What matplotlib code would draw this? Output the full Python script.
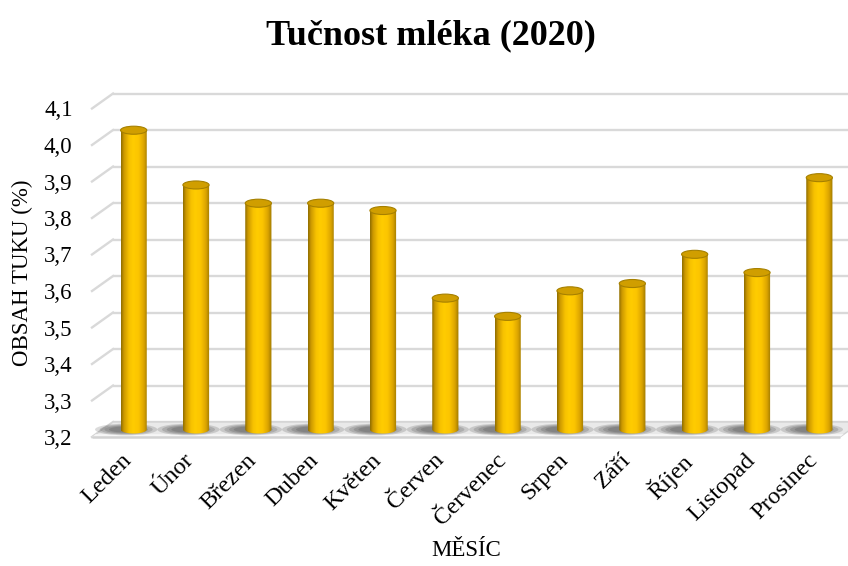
import numpy as np
import matplotlib
matplotlib.use('Agg')
import matplotlib.pyplot as plt
from matplotlib.patches import Ellipse, Polygon, PathPatch
from matplotlib.path import Path
from matplotlib.colors import LinearSegmentedColormap

# Monthly milk fat content
months = ['Leden', 'Únor', 'Březen', 'Duben', 'Květen', 'Červen',
          'Červenec', 'Srpen', 'Září', 'Říjen', 'Listopad', 'Prosinec']
fat = [4.02, 3.87, 3.82, 3.82, 3.80, 3.56, 3.51, 3.58, 3.60, 3.68, 3.63, 3.89]
y_ticks = [3.2, 3.3, 3.4, 3.5, 3.6, 3.7, 3.8, 3.9, 4.0, 4.1]
y_labels = ['3,2', '3,3', '3,4', '3,5', '3,6', '3,7', '3,8', '3,9', '4,0', '4,1']

BASE = 3.2
TOP = 4.1
DX = 0.337     # depth offset of the back wall (categories)
DY = 0.041     # depth offset of the back wall (value units)
HALF_W = 0.21  # cylinder radius
ELL_H = 0.022  # height of the cylinder cap ellipse
GRID = '#d9d9d9'

plt.rcParams['font.family'] = ['Liberation Serif', 'DejaVu Serif']

W, H = 848, 566
fig = plt.figure(figsize=(W / 100, H / 100), dpi=100)
# front plane of the 3D box, in pixels
left, right, bottom, top = 92, 840, 437, 108.5
ax = fig.add_axes([left / W, 1 - bottom / H, (right - left) / W, (bottom - top) / H])
ax.patch.set_visible(False)

x = np.arange(len(months))
x_end = len(months) - 0.5
wall_end = x_end + 8 / 62.33 + DX

# back wall gridlines and side wall diagonals
for v in y_ticks:
    ax.plot([-0.5 + DX, wall_end], [v + DY, v + DY], color=GRID, lw=1.7,
            clip_on=False, zorder=1, solid_capstyle='butt')
    ax.plot([-0.5, -0.5 + DX], [v, v + DY], color=GRID, lw=1.7,
            clip_on=False, zorder=1)

# floor
floor = Polygon([(-0.5, BASE), (x_end, BASE), (x_end + DX, BASE + DY),
                 (-0.5 + DX, BASE + DY)], closed=True, facecolor='#e9e9e9',
                edgecolor='#d4d4d4', lw=1.0, zorder=1.5, clip_on=False)
ax.add_patch(floor)
ax.add_patch(Polygon([(-0.5, BASE), (x_end, BASE), (x_end + 0.06, BASE + 0.008),
                      (-0.5 + 0.06, BASE + 0.008)], closed=True,
                     facecolor='#f6f6f6', edgecolor='none', zorder=1.55,
                     clip_on=False))
ax.plot([-0.5, x_end], [BASE, BASE], color='#d2d2d2', lw=1.8, zorder=1.6,
        clip_on=False, solid_capstyle='butt')

# soft shadows around the bases, thrown a little to the left
for i in x:
    cx = i + DX / 2
    for w, h in [(1.0, 0.032), (0.85, 0.027), (0.7, 0.022), (0.55, 0.017)]:
        ax.add_patch(Ellipse((cx - 0.12, BASE + DY / 2), w, h, facecolor='#2a2a2a',
                             edgecolor='none', alpha=0.17, zorder=2, clip_on=False))

cyl_cmap = LinearSegmentedColormap.from_list('cyl', [
    (0.0, '#8a6a00'), (0.1, '#c99600'), (0.3, '#f7c200'), (0.45, '#ffcc00'),
    (0.65, '#fcc500'), (0.85, '#dca500'), (1.0, '#9c7700')])
grad = np.linspace(0, 1, 256)[np.newaxis, :]

for i, v in zip(x, fat):
    cx = i + DX / 2
    y0 = BASE + DY / 2
    y1 = v + DY / 2
    t = np.linspace(np.pi, 2 * np.pi, 40)
    arc = np.column_stack([cx + HALF_W * np.cos(t), y0 + ELL_H / 2 * np.sin(t)])
    verts = np.vstack([[cx - HALF_W, y1], arc, [cx + HALF_W, y1], [cx - HALF_W, y1]])
    codes = [Path.MOVETO] + [Path.LINETO] * (len(verts) - 2) + [Path.CLOSEPOLY]
    body = PathPatch(Path(verts, codes), facecolor='none', edgecolor='none',
                     transform=ax.transData)
    im = ax.imshow(grad, cmap=cyl_cmap, aspect='auto', interpolation='bicubic',
                   extent=[cx - HALF_W, cx + HALF_W, y0 - ELL_H, y1], zorder=3)
    im.set_clip_path(body)
    ax.add_patch(Ellipse((cx, y1), 2 * HALF_W, ELL_H, facecolor='#d09e00',
                         edgecolor='#a68000', lw=0.8, zorder=4, clip_on=False))

ax.set_xlim(-0.5, x_end)
ax.set_ylim(BASE, TOP)
ax.set_yticks(y_ticks)
ax.set_yticklabels(y_labels, fontsize=16.5)
ax.set_xticks(x + DX / 2 + 0.04)
ax.set_xticklabels(months, fontsize=17.5, rotation=45, ha='right', va='top')
ax.tick_params(axis='y', length=0, pad=14)
ax.tick_params(axis='x', length=0, pad=9)
for s in ax.spines.values():
    s.set_visible(False)

fig.text(431 / W, 1 - 36 / H, 'Tučnost mléka (2020)', fontsize=26,
         fontweight='bold', ha='center', va='center')
fig.text(466 / W, 1 - 551 / H, 'MĚSÍC', fontsize=16.5, ha='center', va='center')
fig.text(22 / W, 1 - 273 / H, 'OBSAH TUKU (%)', fontsize=16.5, rotation=90,
         ha='center', va='center')

fig.savefig('out.png', dpi=100)
